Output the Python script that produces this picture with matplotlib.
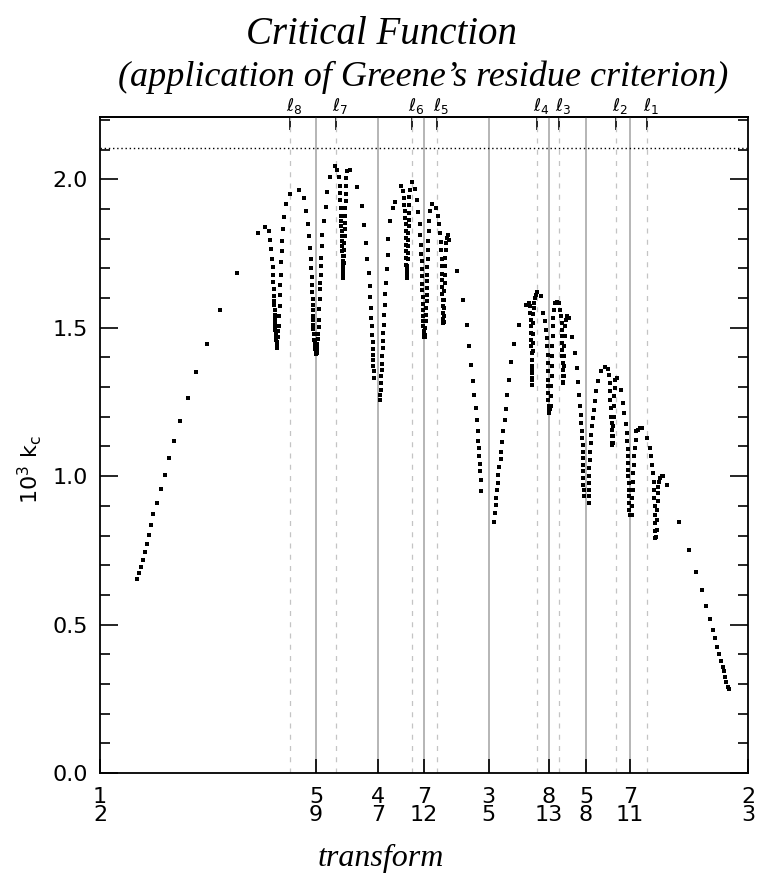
import numpy as np
import matplotlib
matplotlib.use('Agg')
import matplotlib.pyplot as plt
from matplotlib.ticker import MultipleLocator, FormatStrFormatter

plt.rcParams['mathtext.default'] = 'regular'
plt.rcParams['font.family'] = ['DejaVu Sans']

# rational windings (bottom ticks, solid guide lines)
rat_num = [1, 5, 4, 7, 3, 8, 5, 7, 2]
rat_den = [2, 9, 7, 12, 5, 13, 8, 11, 3]
# noble windings l1 .. l8 (top ticks, dashed guide lines)
noble_x = [0.6407, 0.6328, 0.6180, 0.6124, 0.5867, 0.5802, 0.5607, 0.5488]
k_level = 2.105

# critical k (x 10^3) against winding, one block per resonance dip
rise_x = [0.5095, 0.5100, 0.5105, 0.5110, 0.5115, 0.5120, 0.5126, 0.5130, 0.5137, 0.5147,
          0.5156, 0.5166, 0.5178, 0.5190, 0.5206, 0.5226, 0.5247, 0.5274, 0.5308, 0.5352,
          0.5407, 0.5425, 0.5434]
rise_y = [0.652, 0.673, 0.695, 0.719, 0.744, 0.772, 0.801, 0.835, 0.871, 0.910,
          0.957, 1.004, 1.060, 1.120, 1.186, 1.263, 1.351, 1.445, 1.560, 1.685,
          1.818, 1.841, 1.826]

d6_11_x = [0.5437, 0.5441, 0.5443, 0.5444, 0.5445, 0.5446, 0.5447, 0.5447, 0.5448, 0.5448,
           0.5449, 0.5449, 0.5449, 0.5450, 0.5450, 0.5451,
           0.5452, 0.5452, 0.5453, 0.5453, 0.5454, 0.5454, 0.5455, 0.5455,
           0.5456, 0.5457, 0.5458, 0.5460, 0.5461, 0.5462, 0.5463, 0.5464, 0.5465, 0.5466,
           0.5467, 0.5469, 0.5471, 0.5473, 0.5478, 0.5489, 0.5512, 0.5524]
d6_11_y = [1.795, 1.766, 1.731, 1.705, 1.678, 1.653, 1.631, 1.608, 1.590, 1.575,
           1.559, 1.544, 1.530, 1.516, 1.505, 1.492,
           1.484, 1.476, 1.468, 1.460, 1.452, 1.445, 1.438, 1.432,
           1.445, 1.470, 1.488, 1.505, 1.539, 1.572, 1.612, 1.645, 1.679, 1.721,
           1.758, 1.791, 1.831, 1.874, 1.917, 1.950, 1.963, 1.936]

d5_9_x = [0.5531, 0.5534, 0.5538, 0.5540, 0.5542, 0.5543, 0.5544, 0.5545, 0.5546, 0.5547,
          0.5547, 0.5548, 0.5548, 0.5548, 0.5549, 0.5549, 0.5550, 0.5551,
          0.5552, 0.5553, 0.5554, 0.5554, 0.5555, 0.5555, 0.5556, 0.5557, 0.5557, 0.5558,
          0.5559, 0.5560, 0.5561, 0.5562, 0.5563, 0.5564, 0.5565, 0.5566, 0.5567, 0.5568,
          0.5568, 0.5569, 0.5571, 0.5572, 0.5575, 0.5580, 0.5583, 0.5592, 0.5605, 0.5610]
d5_9_y = [1.892, 1.851, 1.808, 1.769, 1.732, 1.702, 1.671, 1.645, 1.619, 1.597,
          1.578, 1.559, 1.541, 1.525, 1.510, 1.496, 1.480, 1.460,
          1.452, 1.444, 1.437, 1.430, 1.424, 1.418, 1.412, 1.416, 1.424, 1.432,
          1.446, 1.462, 1.480, 1.503, 1.527, 1.562, 1.596, 1.629, 1.652, 1.677,
          1.707, 1.735, 1.774, 1.814, 1.859, 1.907, 1.958, 2.008, 2.044, 2.033]

d9_16_x = [0.5615, 0.5616, 0.5617, 0.5618, 0.5619, 0.5620, 0.5621, 0.5621, 0.5622, 0.5622,
           0.5623, 0.5623, 0.5623, 0.5624, 0.5624, 0.5624, 0.5624, 0.5625, 0.5625, 0.5625,
           0.5625,
           0.5626, 0.5626, 0.5626, 0.5627, 0.5627, 0.5628, 0.5628, 0.5629, 0.5629, 0.5630,
           0.5630, 0.5631, 0.5632, 0.5632, 0.5633, 0.5634, 0.5636, 0.5643]
d9_16_y = [2.007, 1.979, 1.955, 1.929, 1.903, 1.878, 1.859, 1.842, 1.825, 1.808,
           1.791, 1.774, 1.758, 1.741, 1.724, 1.716, 1.707, 1.699, 1.690, 1.682,
           1.673,
           1.669, 1.680, 1.696, 1.718, 1.741, 1.763, 1.786, 1.808, 1.831, 1.853,
           1.878, 1.903, 1.927, 1.952, 1.977, 2.003, 2.027, 2.030]

d4_7_x = [0.5661, 0.5673, 0.5679, 0.5684, 0.5688, 0.5691, 0.5694, 0.5694, 0.5696, 0.5697,
          0.5699, 0.5700, 0.5701, 0.5701, 0.5702, 0.5703, 0.5703, 0.5704, 0.5705,
          0.5720, 0.5721, 0.5723, 0.5723, 0.5724, 0.5725, 0.5725, 0.5726, 0.5727, 0.5728,
          0.5729, 0.5731, 0.5731, 0.5732, 0.5734, 0.5736, 0.5738, 0.5740, 0.5742, 0.5746,
          0.5753, 0.5760]
d4_7_y = [1.975, 1.909, 1.845, 1.784, 1.732, 1.685, 1.642, 1.604, 1.567, 1.533,
          1.505, 1.477, 1.452, 1.430, 1.409, 1.390, 1.372, 1.353, 1.331,
          1.258, 1.274, 1.291, 1.314, 1.336, 1.359, 1.379, 1.404, 1.432, 1.454,
          1.482, 1.510, 1.542, 1.575, 1.613, 1.651, 1.699, 1.746, 1.800, 1.859,
          1.904, 1.923]

d11_19_x = [0.5773, 0.5780, 0.5782, 0.5783, 0.5784, 0.5785, 0.5786, 0.5786, 0.5787, 0.5787,
            0.5788, 0.5788, 0.5788, 0.5789, 0.5789, 0.5789, 0.5789,
            0.5790, 0.5790, 0.5791, 0.5792, 0.5792, 0.5793, 0.5793, 0.5794, 0.5794, 0.5795,
            0.5796, 0.5796, 0.5797, 0.5802, 0.5810]
d11_19_y = [1.977, 1.960, 1.938, 1.915, 1.893, 1.870, 1.848, 1.825, 1.803, 1.780,
            1.758, 1.735, 1.713, 1.697, 1.690, 1.680, 1.668,
            1.685, 1.707, 1.730, 1.752, 1.775, 1.797, 1.820, 1.842, 1.864, 1.887,
            1.915, 1.941, 1.963, 1.990, 1.968]

d7_12_x = [0.5816, 0.5819, 0.5822, 0.5824, 0.5825, 0.5826, 0.5827, 0.5828, 0.5828, 0.5829,
           0.5829, 0.5830, 0.5830, 0.5831, 0.5831, 0.5832, 0.5832, 0.5833, 0.5833, 0.5833,
           0.5835, 0.5836, 0.5837, 0.5838, 0.5839, 0.5839, 0.5840, 0.5840, 0.5841, 0.5841,
           0.5842, 0.5842, 0.5843, 0.5844, 0.5844, 0.5845, 0.5846, 0.5850, 0.5855]
d7_12_y = [1.929, 1.889, 1.851, 1.814, 1.780, 1.750, 1.724, 1.698, 1.673, 1.649,
           1.626, 1.604, 1.581, 1.561, 1.541, 1.522, 1.505, 1.488, 1.477, 1.470,
           1.470, 1.477, 1.499, 1.522, 1.544, 1.567, 1.589, 1.612, 1.634, 1.657,
           1.679, 1.705, 1.732, 1.763, 1.791, 1.825, 1.859, 1.893, 1.917]

d10_17_x = [0.5864, 0.5869, 0.5872, 0.5875, 0.5877, 0.5878, 0.5879, 0.5879, 0.5880, 0.5880,
            0.5880, 0.5880, 0.5881, 0.5881, 0.5881, 0.5882, 0.5882,
            0.5884, 0.5885, 0.5885, 0.5886, 0.5886, 0.5887, 0.5887, 0.5888, 0.5888, 0.5889,
            0.5890, 0.5892, 0.5894, 0.5898]
d10_17_y = [1.904, 1.878, 1.848, 1.818, 1.788, 1.761, 1.732, 1.707, 1.682, 1.660,
            1.638, 1.615, 1.595, 1.572, 1.550, 1.530, 1.516,
            1.520, 1.539, 1.567, 1.595, 1.623, 1.651, 1.679, 1.707, 1.735, 1.763,
            1.786, 1.803, 1.811, 1.797]

d3_5_x = [0.5917, 0.5933, 0.5943, 0.5949, 0.5954, 0.5959, 0.5962, 0.5966, 0.5969, 0.5971,
          0.5973, 0.5975, 0.5976, 0.5977, 0.5978, 0.5979, 0.5980,
          0.6013, 0.6016, 0.6018, 0.6019, 0.6021, 0.6023, 0.6024, 0.6027, 0.6031, 0.6032,
          0.6034, 0.6037, 0.6042, 0.6044, 0.6046, 0.6051, 0.6057, 0.6064, 0.6078, 0.6096,
          0.6103]
d3_5_y = [1.690, 1.592, 1.510, 1.440, 1.376, 1.319, 1.272, 1.230, 1.188, 1.151,
          1.120, 1.095, 1.069, 1.042, 1.016, 0.988, 0.951,
          0.847, 0.876, 0.904, 0.926, 0.952, 0.977, 1.005, 1.031, 1.058, 1.083,
          1.114, 1.151, 1.190, 1.226, 1.274, 1.325, 1.383, 1.445, 1.510, 1.578,
          1.584]

d11_18_x = [0.6106, 0.6107, 0.6108, 0.6108, 0.6109, 0.6109, 0.6109, 0.6110, 0.6110, 0.6110,
            0.6110, 0.6111, 0.6111,
            0.6112, 0.6112, 0.6112, 0.6113, 0.6113, 0.6113, 0.6114, 0.6114, 0.6115, 0.6116,
            0.6118, 0.6121, 0.6124, 0.6133]
d11_18_y = [1.572, 1.550, 1.527, 1.505, 1.482, 1.460, 1.437, 1.415, 1.392, 1.370,
            1.348, 1.325, 1.308,
            1.330, 1.360, 1.390, 1.420, 1.450, 1.480, 1.516, 1.545, 1.565, 1.585,
            1.600, 1.610, 1.619, 1.606]

d8_13_x = [0.6140, 0.6145, 0.6147, 0.6149, 0.6150, 0.6151, 0.6152, 0.6152, 0.6153, 0.6153,
           0.6153, 0.6153, 0.6154, 0.6154, 0.6154,
           0.6155, 0.6157, 0.6159, 0.6160, 0.6161, 0.6162, 0.6163, 0.6163, 0.6163, 0.6164,
           0.6165, 0.6166, 0.6168, 0.6171, 0.6175, 0.6181]
d8_13_y = [1.550, 1.522, 1.494, 1.466, 1.437, 1.409, 1.381, 1.353, 1.325, 1.303,
           1.280, 1.258, 1.235, 1.222, 1.213,
           1.215, 1.225, 1.235, 1.269, 1.303, 1.336, 1.370, 1.404, 1.437, 1.471,
           1.505, 1.533, 1.561, 1.584, 1.586, 1.584]

d13_21_x = [0.6183, 0.6186, 0.6187, 0.6188, 0.6188, 0.6188, 0.6189, 0.6189, 0.6190, 0.6190,
            0.6191, 0.6191,
            0.6192, 0.6193, 0.6193, 0.6194, 0.6194, 0.6195, 0.6196, 0.6198, 0.6200, 0.6205]
d13_21_y = [1.561, 1.539, 1.516, 1.494, 1.471, 1.449, 1.426, 1.404, 1.381, 1.359,
            1.336, 1.314,
            1.318, 1.336, 1.370, 1.404, 1.437, 1.471, 1.505, 1.527, 1.539, 1.533]

d5_8_x = [0.6215, 0.6221, 0.6226, 0.6229, 0.6232, 0.6235, 0.6236, 0.6238, 0.6239, 0.6240,
          0.6241, 0.6241, 0.6241, 0.6242, 0.6242, 0.6243, 0.6243, 0.6244, 0.6245,
          0.6257, 0.6257, 0.6258, 0.6258, 0.6259, 0.6259, 0.6260, 0.6261, 0.6263, 0.6264,
          0.6266, 0.6268, 0.6270, 0.6272, 0.6276, 0.6281, 0.6289, 0.6300, 0.6306]
d5_8_y = [1.469, 1.415, 1.364, 1.316, 1.274, 1.237, 1.207, 1.179, 1.151, 1.128,
          1.106, 1.083, 1.061, 1.038, 1.016, 0.994, 0.971, 0.954, 0.934,
          0.909, 0.932, 0.954, 0.977, 0.999, 1.027, 1.055, 1.083, 1.112, 1.140,
          1.168, 1.196, 1.224, 1.252, 1.286, 1.322, 1.353, 1.368, 1.362]

d12_19_x = [0.6310, 0.6312, 0.6313, 0.6313, 0.6314, 0.6315, 0.6316, 0.6316, 0.6317, 0.6317,
            0.6317,
            0.6319, 0.6320, 0.6320, 0.6321, 0.6322, 0.6323, 0.6324, 0.6325, 0.6329]
d12_19_y = [1.342, 1.314, 1.286, 1.258, 1.230, 1.201, 1.179, 1.156, 1.134, 1.112,
            1.104,
            1.112, 1.134, 1.168, 1.201, 1.235, 1.269, 1.297, 1.325, 1.331]

d7_11_x = [0.6339, 0.6346, 0.6349, 0.6352, 0.6355, 0.6356, 0.6357, 0.6358, 0.6358, 0.6359,
           0.6359, 0.6360, 0.6360, 0.6361, 0.6361, 0.6361, 0.6362,
           0.6368, 0.6368, 0.6369, 0.6370, 0.6371, 0.6372, 0.6374, 0.6374, 0.6376, 0.6378,
           0.6379, 0.6383, 0.6389, 0.6395]
d7_11_y = [1.289, 1.248, 1.213, 1.177, 1.145, 1.117, 1.091, 1.067, 1.044, 1.022,
           0.999, 0.977, 0.954, 0.932, 0.909, 0.887, 0.870,
           0.870, 0.898, 0.926, 0.954, 0.982, 1.010, 1.038, 1.067, 1.095, 1.123,
           1.151, 1.156, 1.161, 1.162]

d9_14_x = [0.6408, 0.6414, 0.6418, 0.6421, 0.6422, 0.6424, 0.6425, 0.6426, 0.6427, 0.6427,
           0.6428, 0.6428, 0.6428,
           0.6431, 0.6433, 0.6433, 0.6433, 0.6434, 0.6435, 0.6435, 0.6438, 0.6440, 0.6445,
           0.6449, 0.6458]
d9_14_y = [1.128, 1.095, 1.069, 1.038, 1.010, 0.982, 0.954, 0.926, 0.898, 0.870,
           0.842, 0.814, 0.791,
           0.795, 0.819, 0.853, 0.887, 0.915, 0.943, 0.965, 0.982, 0.994, 1.001,
           1.002, 0.971]

tail_x = [0.6489, 0.6516, 0.6533, 0.6548, 0.6559, 0.6569, 0.6576, 0.6582, 0.6588, 0.6593,
          0.6597, 0.6602, 0.6605, 0.6608, 0.6611, 0.6614, 0.6618]
tail_y = [0.847, 0.752, 0.677, 0.615, 0.563, 0.518, 0.482, 0.454, 0.426, 0.401,
          0.379, 0.358, 0.342, 0.325, 0.308, 0.291, 0.282]

kx = np.concatenate([rise_x, d6_11_x, d5_9_x, d9_16_x, d4_7_x, d11_19_x, d7_12_x,
                     d10_17_x, d3_5_x, d11_18_x, d8_13_x, d13_21_x, d5_8_x, d12_19_x,
                     d7_11_x, d9_14_x, tail_x])
ky = np.concatenate([rise_y, d6_11_y, d5_9_y, d9_16_y, d4_7_y, d11_19_y, d7_12_y,
                     d10_17_y, d3_5_y, d11_18_y, d8_13_y, d13_21_y, d5_8_y, d12_19_y,
                     d7_11_y, d9_14_y, tail_y])

rats = np.array(rat_num) / np.array(rat_den)

fig = plt.figure(figsize=(7.59, 8.88), dpi=100)
ax = fig.add_axes([100 / 759, 115 / 888, 648 / 759, 656 / 888])

for r in rats[1:-1]:
    ax.axvline(r, color='#b5b5b5', lw=1.4, zorder=1)
for n in noble_x:
    ax.axvline(n, color='#c4c4c4', lw=0.9, ls=(0, (4, 5)), zorder=1)
ax.axhline(k_level, color='black', lw=1.0, ls=(0, (1, 2)), zorder=2)

ax.plot(kx, ky, 's', color='black', ms=2.8, mew=0, zorder=3)

ax.set_xlim(0.5, 2 / 3)
ax.set_ylim(0, 2.21)

ax.set_xticks(rats)
ax.set_xticklabels([f'{n}\n{d}' for n, d in zip(rat_num, rat_den)], linespacing=0.9)
ax.tick_params(axis='x', direction='in', length=10, width=1.2, pad=10, labelsize=16)

ax.yaxis.set_major_locator(MultipleLocator(0.5))
ax.yaxis.set_minor_locator(MultipleLocator(0.1))
ax.yaxis.set_major_formatter(FormatStrFormatter('%.1f'))
ax.tick_params(axis='y', which='major', direction='in', length=13, width=1.2,
               right=True, labelsize=16, pad=9)
ax.tick_params(axis='y', which='minor', direction='in', length=7, width=1.2, right=True)
for s in ax.spines.values():
    s.set_linewidth(1.3)

top = ax.secondary_xaxis('top')
top.set_xticks(noble_x)
top.set_xticklabels([])
top.tick_params(direction='in', length=9, width=1.2)
top.spines['top'].set_linewidth(1.3)
for i, n in enumerate(noble_x):
    ax.annotate(rf'$\ell_{i + 1}$', xy=(n, 1.0), xycoords=('data', 'axes fraction'),
                xytext=(-3, 1), textcoords='offset points', ha='left', va='bottom',
                fontsize=12.5)

serif = dict(family='Liberation Serif', style='italic', ha='center', va='center')
fig.text(381 / 759, 1 - 34 / 888, 'Critical Function', size=28, **serif)
fig.text(423 / 759, 1 - 77 / 888, '(application of Greene\u2019s residue criterion)',
         size=26, **serif)
fig.text(381 / 759, 1 - 858 / 888, 'transform', size=23, **serif)
fig.text(30 / 759, 1 - 470 / 888, r'10$^3$ k$_c$', rotation=90, ha='center', va='center',
         fontsize=16)

fig.savefig('out.png', dpi=100)
